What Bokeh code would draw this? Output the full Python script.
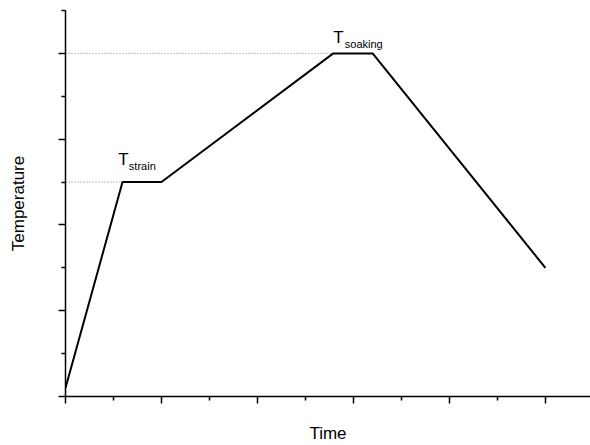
from bokeh.plotting import figure
from bokeh.models import FixedTicker, Range1d
from bokeh.core.properties import value
from bokeh.embed import file_html
from bokeh.resources import INLINE

# heating profile
time = [0, 0.594, 1.0, 2.79, 3.2, 5.0]
temp = [0.1, 2.5, 2.5, 4.0, 4.0, 1.5]

# reference levels (dotted lines)
t_strain = 2.5
t_strain_x = 0.594
t_soak = 4.0
t_soak_x = 2.79

FONT = "Liberation Sans"

p = figure(width=590, height=445, output_backend="svg", toolbar_location=None,
           x_range=Range1d(0, 5.47), y_range=Range1d(0, 4.5),
           min_border_left=65, min_border_bottom=48, min_border_top=10, min_border_right=0)
p.outline_line_color = None
p.grid.visible = False
p.background_fill_color = "white"

for ax, major, minor in ((p.xaxis, [0, 1, 2, 3, 4, 5], [0.5, 1.5, 2.5, 3.5, 4.5, 5.5]),
                         (p.yaxis, [0, 1, 2, 3, 4], [0.5, 1.5, 2.5, 3.5, 4.5])):
    ax.ticker = FixedTicker(ticks=major, minor_ticks=minor)
    ax.major_label_text_color = None
    ax.major_label_text_font_size = "1px"
    ax.axis_line_width = 1.5
    ax.major_tick_line_width = 1.5
    ax.minor_tick_line_width = 1.5
    ax.major_tick_out = 7
    ax.major_tick_in = 0
    ax.minor_tick_out = 4
    ax.minor_tick_in = 0
    ax.axis_label_text_font = FONT
    ax.axis_label_text_font_size = "17px"
    ax.axis_label_text_font_style = "normal"
    ax.axis_label_text_color = "black"

p.xaxis.axis_label = "Time"
p.yaxis.axis_label = "Temperature"
p.xaxis.axis_label_standoff = 20
p.yaxis.axis_label_standoff = 31

p.line([0, t_strain_x], [t_strain, t_strain], line_color="gray", line_dash="1 2", line_width=1)
p.line([0, t_soak_x], [t_soak, t_soak], line_color="gray", line_dash="1 2", line_width=1)
p.line(time, temp, line_color="black", line_width=2)

f = value(FONT)
p.text([0.55], [2.76], text=["T"], text_font_size="17px", text_font=f, text_baseline="alphabetic")
p.text([0.66], [2.69], text=["strain"], text_font_size="11px", text_font=f, text_baseline="alphabetic")
p.text([2.79], [4.18], text=["T"], text_font_size="17px", text_font=f, text_baseline="alphabetic")
p.text([2.91], [4.11], text=["soaking"], text_font_size="11px", text_font=f, text_baseline="alphabetic")

open("out.html", "w").write(file_html(p, INLINE))
